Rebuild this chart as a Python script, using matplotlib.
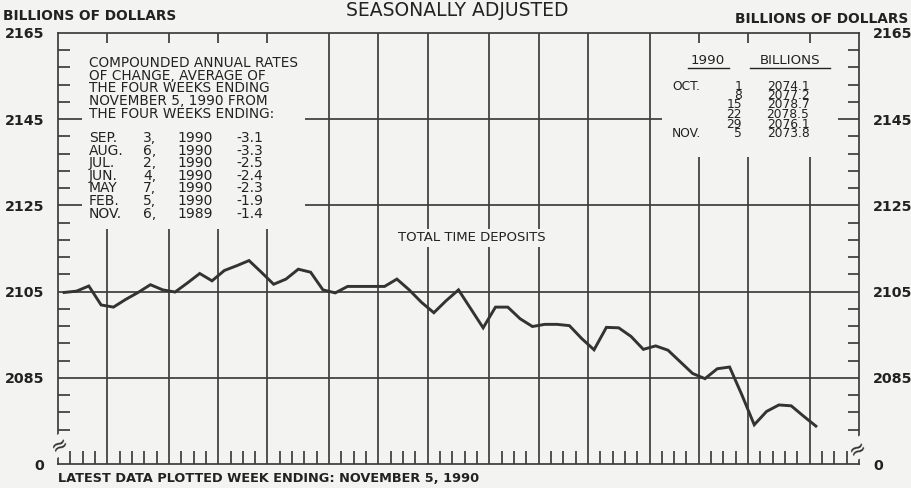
import numpy as np
import matplotlib
matplotlib.use("Agg")
import matplotlib.pyplot as plt
from matplotlib.lines import Line2D
from matplotlib.transforms import blended_transform_factory

# ---------------- data ----------------
# weeks in each month, Sep 1989 .. Nov 1990 (weeks ending Mondays)
weeks_per_month = [4, 5, 4, 4, 5, 4, 4, 5, 4, 4, 5, 4, 4, 5, 4]

# total time deposits, billions of dollars, weekly (Sep 4, 1989 .. Nov 5, 1990)
deposits = [
    2104.8, 2105.1, 2106.3, 2101.9, 2101.4, 2103.2, 2104.8, 2106.6, 2105.4, 2104.9,
    2107.0, 2109.2, 2107.5, 2109.9, 2111.0, 2112.2, 2109.5, 2106.7, 2107.9, 2110.2,
    2109.5, 2105.4, 2104.7, 2106.2, 2106.2, 2106.2, 2106.2, 2107.9, 2105.4, 2102.5,
    2100.1, 2102.9, 2105.4, 2101.0, 2096.6, 2101.4, 2101.4, 2098.7, 2096.9, 2097.4,
    2097.4, 2097.1, 2094.1, 2091.5, 2096.7, 2096.6, 2094.6, 2091.6, 2092.4, 2091.4,
    2088.7, 2086.0, 2084.8, 2087.1, 2087.5, 2081.0, 2074.1, 2077.2, 2078.7, 2078.5,
    2076.1, 2073.8,
]

y_major = [2165, 2145, 2125, 2105, 2085, 2065]
y_major_labels = ["2165", "2145", "2125", "2105", "2085", "0"]
y_minor = [v for v in range(2069, 2165, 4) if v != 2069]

intro_lines = ["COMPOUNDED ANNUAL RATES", "OF CHANGE, AVERAGE OF",
               "THE FOUR WEEKS ENDING", "NOVEMBER 5, 1990 FROM",
               "THE FOUR WEEKS ENDING:"]
rate_months = ["SEP.", "AUG.", "JUL.", "JUN.", "MAY", "FEB.", "NOV."]
rate_days = ["3,", "6,", "2,", "4,", "7,", "5,", "6,"]
rate_years = ["1990", "1990", "1990", "1990", "1990", "1990", "1989"]
rate_values = [-3.1, -3.3, -2.5, -2.4, -2.3, -1.9, -1.4]

tbl_months = ["OCT.", "", "", "", "", "NOV."]
tbl_days = [1, 8, 15, 22, 29, 5]
tbl_values = [2074.1, 2077.2, 2078.7, 2078.5, 2076.1, 2073.8]

# ---------------- figure ----------------
W, H = 911, 488
BG = "#f3f3f1"
INK = "#333333"
GRID = "#3c3c3c"
TXT = "#222222"
FONT = "DejaVu Sans"

fig = plt.figure(figsize=(W / 100, H / 100), dpi=100, facecolor=BG)
L, R, T, B = 58, 859, 33, 464
ax = fig.add_axes([L / W, 1 - B / H, (R - L) / W, (B - T) / H])
ax.set_facecolor(BG)

n_weeks = sum(weeks_per_month)
ax.set_xlim(0, n_weeks)
ax.set_ylim(2065, 2165)

for s in ax.spines.values():
    s.set_color(GRID)
    s.set_linewidth(1.25)

# y tick labels both sides
ax.set_yticks(y_major)
ax.set_yticklabels(y_major_labels)
ax.tick_params(axis="y", length=0, pad=10, labelright=True, labelleft=True)
for lab in ax.get_yticklabels():
    lab.set_fontfamily(FONT)
    lab.set_fontweight("bold")
    lab.set_fontsize(10.3)
    lab.set_color(TXT)
ax.set_xticks([])

tx_data_yaxes = blended_transform_factory(ax.transData, ax.transAxes)
tx_axes_ydata = blended_transform_factory(ax.transAxes, ax.transData)
gkw = dict(color=GRID, lw=1.25, solid_capstyle="butt")

# month boundaries
bounds = np.cumsum(weeks_per_month)[:-1]
top_stub = 1 - 10 / (B - T)
for i, xb in enumerate(bounds):
    if i < 4:
        ax.plot([xb, xb], [1, top_stub], transform=tx_data_yaxes, **gkw)
        ax.plot([xb, xb], [0, 0.545], transform=tx_data_yaxes, **gkw)
    elif i >= 11:
        ax.plot([xb, xb], [1, top_stub], transform=tx_data_yaxes, **gkw)
        ax.plot([xb, xb], [0, 0.712], transform=tx_data_yaxes, **gkw)
    elif i in (6, 7, 8):
        ax.plot([xb, xb], [0, 0.503], transform=tx_data_yaxes, **gkw)
        ax.plot([xb, xb], [0.545, 1], transform=tx_data_yaxes, **gkw)
    else:
        ax.plot([xb, xb], [0, 1], transform=tx_data_yaxes, **gkw)

# weekly ticks along the bottom
month_set = set(bounds.tolist())
for wk in range(1, n_weeks):
    if wk not in month_set:
        ax.plot([wk, wk], [0, 13 / (B - T)], transform=tx_data_yaxes, **gkw)

# horizontal major lines
PW = R - L
ax.plot([0, 1], [2105, 2105], transform=tx_axes_ydata, **gkw)
ax.plot([0, 1], [2085, 2085], transform=tx_axes_ydata, **gkw)
for yv, xe in ((2145, (662 - L) / PW), (2125, 1.0)):
    ax.plot([0, 24 / PW], [yv, yv], transform=tx_axes_ydata, **gkw)
    ax.plot([(305 - L) / PW, xe], [yv, yv], transform=tx_axes_ydata, **gkw)
ax.plot([1 - 21 / PW, 1], [2145, 2145], transform=tx_axes_ydata, **gkw)

# minor ticks on both sides
for yv in y_minor:
    if yv in y_major:
        continue
    ax.plot([0, 12 / PW], [yv, yv], transform=tx_axes_ydata, **gkw)
    ax.plot([1 - 11 / PW, 1], [yv, yv], transform=tx_axes_ydata, **gkw)

# the series
xw = np.arange(len(deposits)) + 0.5
ax.plot(xw, deposits, color=INK, lw=2.1, solid_joinstyle="miter", zorder=5)

# axis-break marks
for xa, yv in ((0.002, 2069.4), (0.998, 2068.6)):
    ax.text(xa, yv, "\u2248", transform=tx_axes_ydata, ha="center", va="center",
            fontsize=15, rotation=30, color=INK, family=FONT, zorder=6,
            bbox=dict(boxstyle="square,pad=0.0", fc=BG, ec="none"))


# ---------------- text ----------------
def ftext(x, y, s, **kw):
    kw.setdefault("family", FONT)
    kw.setdefault("color", TXT)
    kw.setdefault("va", "center")
    fig.text(x / W, 1 - y / H, s, **kw)


ftext(457, 10, "SEASONALLY ADJUSTED", ha="center", fontsize=13.5)
ftext(3, 16, "BILLIONS OF DOLLARS", ha="left", fontsize=9.9, fontweight="bold")
ftext(908, 19, "BILLIONS OF DOLLARS", ha="right", fontsize=9.9, fontweight="bold")

for i, s in enumerate(intro_lines):
    ftext(89, 63 + 12.7 * i, s, ha="left", fontsize=9.8)
for i in range(len(rate_months)):
    y = 138 + 12.6 * i
    ftext(89, y, rate_months[i], ha="left", fontsize=10)
    ftext(156, y, rate_days[i], ha="right", fontsize=10)
    ftext(177, y, rate_years[i], ha="left", fontsize=10)
    ftext(250, y, f"{rate_values[i]:.1f}", ha="center", fontsize=10)

ftext(708, 61, "1990", ha="center", fontsize=9.6)
ftext(790, 61, "BILLIONS", ha="center", fontsize=9.6)
for x0, x1 in ((688, 729), (750, 830)):
    fig.add_artist(Line2D([x0 / W, x1 / W], [1 - 68 / H, 1 - 68 / H],
                          color=TXT, lw=1.0))
for i in range(len(tbl_values)):
    y = 86 + 9.5 * i
    if tbl_months[i]:
        ftext(672, y, tbl_months[i], ha="left", fontsize=8.8)
    ftext(742, y, str(tbl_days[i]), ha="right", fontsize=8.8)
    ftext(788, y, f"{tbl_values[i]:.1f}", ha="center", fontsize=8.8)

ftext(472, 238, "TOTAL TIME DEPOSITS", ha="center", fontsize=9.5)
ftext(58, 479, "LATEST DATA PLOTTED WEEK ENDING: NOVEMBER 5, 1990",
      ha="left", fontsize=9.3, fontweight="bold")

fig.savefig("out.png", dpi=100, facecolor=BG)
